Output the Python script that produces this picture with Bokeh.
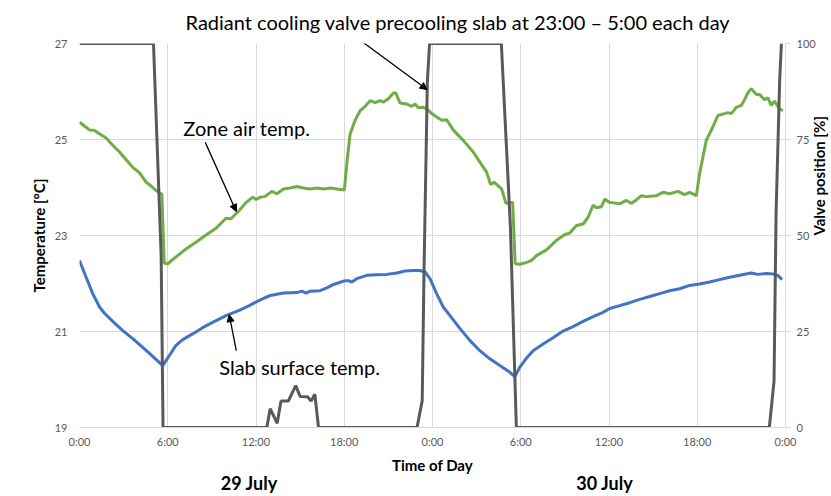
from bokeh.plotting import figure
from bokeh.models import (Range1d, LinearAxis, FixedTicker, Label, Arrow, NormalHead)
from bokeh.embed import file_html
from bokeh.resources import INLINE
import math

# ---------------- data ----------------
green_h = [0, 0.34, 0.68, 1.02, 1.36, 1.81, 2.26, 2.72, 3.17, 3.62,
           4.07, 4.53, 4.87, 5.2, 5.43, 5.6, 5.76, 6.0, 6.34, 6.67,
           7.24, 7.92, 8.6, 9.28, 9.96, 10.3, 10.86, 11.3, 11.77, 12.0,
           12.3, 12.6, 13.08, 13.42, 13.87, 14.32, 14.78, 15.23, 15.68, 16.14,
           16.59, 17.04, 17.5, 18.01, 18.17, 18.4, 18.74, 19.08, 19.42, 19.76,
           20.1, 20.44, 20.66, 21.0, 21.34, 21.5, 21.79, 22.25, 22.59, 22.81,
           23.04, 23.38, 23.61, 23.95, 24.29, 24.63, 24.97, 25.41, 25.87, 26.32,
           26.77, 27.22, 27.68, 27.95, 28.18, 28.7, 28.99, 29.37, 29.45, 29.62,
           29.94, 30.4, 30.73, 31.07, 31.75, 32.43, 33.0, 33.33, 33.79, 34.24,
           34.58, 34.92, 35.15, 35.49, 35.71, 36.05, 36.73, 37.18, 37.52, 37.86,
           38.2, 38.54, 39.22, 39.67, 40.12, 40.69, 41.14, 41.48, 41.94, 42.16,
           42.61, 43.06, 43.4, 43.86, 44.08, 44.31, 44.65, 44.99, 45.22, 45.44,
           45.67, 46.01, 46.23, 46.57, 46.8, 47.03, 47.25, 47.59, 47.82]
zone_air_temp = [25.36, 25.28, 25.20, 25.19, 25.12, 25.03, 24.88, 24.74, 24.58, 24.42,
                 24.31, 24.11, 24.03, 23.94, 23.89, 23.86, 22.42, 22.41, 22.50, 22.58,
                 22.72, 22.86, 23.01, 23.15, 23.36, 23.35, 23.52, 23.68, 23.80, 23.75,
                 23.80, 23.81, 23.92, 23.87, 23.97, 23.99, 24.02, 23.99, 23.97, 23.99,
                 23.97, 23.99, 23.97, 23.95, 24.49, 25.12, 25.40, 25.60, 25.69, 25.81,
                 25.77, 25.81, 25.78, 25.85, 25.97, 25.97, 25.76, 25.74, 25.69, 25.74,
                 25.66, 25.67, 25.64, 25.54, 25.47, 25.40, 25.41, 25.20, 25.05, 24.90,
                 24.74, 24.53, 24.32, 24.06, 24.11, 23.97, 23.67, 23.69, 23.69, 22.41,
                 22.40, 22.44, 22.48, 22.58, 22.70, 22.90, 23.02, 23.05, 23.21, 23.24,
                 23.38, 23.63, 23.58, 23.60, 23.76, 23.69, 23.66, 23.73, 23.67, 23.74,
                 23.83, 23.81, 23.83, 23.90, 23.87, 23.92, 23.85, 23.90, 23.83, 24.29,
                 24.98, 25.26, 25.50, 25.54, 25.56, 25.54, 25.67, 25.71, 25.83, 25.97,
                 26.06, 25.94, 25.94, 25.83, 25.87, 25.71, 25.80, 25.64, 25.60]

blue_h = [0, 0.45, 0.9, 1.36, 1.7, 2.26, 2.94, 3.62, 4.3, 4.98,
          5.66, 6.11, 6.56, 7.02, 7.69, 8.37, 9.05, 9.96, 10.86, 11.54,
          12.29, 12.97, 13.87, 14.78, 15.12, 15.4, 15.68, 16.36, 16.82, 17.27,
          17.95, 18.3, 18.51, 18.85, 19.53, 20.21, 20.89, 21.57, 22.13, 22.7,
          23.15, 23.49, 23.83, 24.28, 24.73, 25.19, 25.87, 26.55, 27.22, 27.9,
          28.58, 29.26, 29.6, 29.94, 30.4, 30.84, 31.52, 32.2, 32.88, 33.56,
          34.24, 34.92, 35.6, 36.05, 36.73, 37.41, 38.09, 38.77, 39.45, 40.12,
          40.8, 41.48, 42.16, 42.84, 43.52, 44.2, 44.88, 45.67, 46.12, 46.69,
          47.14, 47.48, 47.77]
slab_temp = [22.48, 22.13, 21.79, 21.51, 21.38, 21.21, 21.02, 20.85, 20.67, 20.48,
             20.29, 20.50, 20.71, 20.83, 20.95, 21.08, 21.19, 21.33, 21.44, 21.54,
             21.66, 21.75, 21.80, 21.81, 21.84, 21.80, 21.84, 21.85, 21.91, 21.98,
             22.05, 22.06, 22.03, 22.10, 22.17, 22.18, 22.19, 22.22, 22.26, 22.27,
             22.27, 22.24, 22.10, 21.79, 21.51, 21.33, 21.06, 20.81, 20.60, 20.43,
             20.29, 20.15, 20.06, 20.26, 20.45, 20.60, 20.74, 20.87, 21.01, 21.10,
             21.21, 21.31, 21.40, 21.48, 21.54, 21.60, 21.67, 21.73, 21.79, 21.85,
             21.89, 21.96, 21.99, 22.03, 22.08, 22.13, 22.17, 22.22, 22.19, 22.21,
             22.20, 22.17, 22.08]

valve_h = [0, 5.03, 5.55, 5.68, 12.74, 12.96, 13.44, 13.7, 14.2, 14.7,
           15.0, 15.5, 15.75, 16.0, 16.25, 22.95, 23.3, 23.42, 23.65, 23.8,
           28.68, 29.3, 29.7, 46.9, 47.22, 47.36, 47.6, 47.72]
valve_pos = [100, 100, 45, 0, 0, 4.9, 1.1, 6.9, 6.9, 10.9,
             8.1, 8.0, 6.9, 8.7, 0, 0, 7, 40, 90, 100,
             100, 52, 0, 0, 12, 56, 90, 100]

x_ticks = [0, 6, 12, 18, 24, 30, 36, 42, 48]
x_tick_labels = ["0:00", "6:00", "12:00", "18:00", "0:00", "6:00", "12:00", "18:00", "0:00"]
day_ticks = [11.54, 35.71]
day_labels = ["29 July", "30 July"]
temp_ticks = [19, 21, 23, 25, 27]
valve_ticks = [0, 25, 50, 75, 100]

FONT = "Lato"
GRID = "#d9d9d9"
TICKC = "#595959"

p = figure(width=839, height=496, output_backend="svg", toolbar_location=None,
           x_range=Range1d(0, 48), y_range=Range1d(19, 27),
           min_border_left=79, min_border_right=53, min_border_top=43, min_border_bottom=69,
           background_fill_color="white", border_fill_color="white")
p.outline_line_color = None
p.extra_y_ranges = {"valve": Range1d(0, 100)}

# title
p.title.text = "Radiant cooling valve precooling slab at 23:00 \u2013 5:00 each day"
p.title.text_font = FONT
p.title.text_font_size = "20px"
p.title.text_font_style = "normal"
p.title.text_color = "black"
p.title.align = "left"
p.title.offset = 106
p.title.vertical_align = "top"
p.title.standoff = 16

# grids
p.xgrid.ticker = FixedTicker(ticks=x_ticks)
p.ygrid.ticker = FixedTicker(ticks=temp_ticks)
for g in (p.xgrid, p.ygrid):
    g.grid_line_color = GRID
    g.grid_line_width = 1

# bottom axis
xa = p.xaxis[0]
xa.ticker = FixedTicker(ticks=x_ticks)
xa.major_label_overrides = {t: l for t, l in zip(x_ticks, x_tick_labels)}
xa.axis_line_color = GRID
xa.major_tick_line_color = None
xa.minor_tick_line_color = None
xa.major_tick_out = 0
xa.minor_tick_out = 0
xa.major_label_standoff = 7
xa.major_label_text_font = FONT
xa.major_label_text_font_size = "11px"
xa.major_label_text_color = TICKC
xa.axis_label = "Time of Day"
xa.axis_label_text_font = FONT
xa.axis_label_text_font_size = "15px"
xa.axis_label_text_font_style = "bold"
xa.axis_label_text_color = "black"
xa.axis_label_standoff = 5

# day labels axis
da = LinearAxis(ticker=FixedTicker(ticks=day_ticks))
da.major_label_overrides = {t: l for t, l in zip(day_ticks, day_labels)}
da.axis_line_color = None
da.major_tick_line_color = None
da.minor_tick_line_color = None
da.major_tick_out = 0
da.minor_tick_out = 0
da.axis_label_standoff = 0
da.major_label_standoff = -5
da.major_label_text_font = FONT
da.major_label_text_font_size = "18px"
da.major_label_text_font_style = "bold"
da.major_label_text_color = "black"
p.add_layout(da, "below")

# left axis
ya = p.yaxis[0]
ya.ticker = FixedTicker(ticks=temp_ticks)
ya.axis_line_color = None
ya.major_tick_line_color = None
ya.minor_tick_line_color = None
ya.major_tick_out = 0
ya.minor_tick_out = 0
ya.major_label_standoff = 12
ya.major_label_text_font = FONT
ya.major_label_text_font_size = "11px"
ya.major_label_text_color = TICKC
ya.axis_label = "Temperature [\u00b0C]"
ya.axis_label_text_font = FONT
ya.axis_label_text_font_size = "15px"
ya.axis_label_text_font_style = "bold"
ya.axis_label_text_color = "black"
ya.axis_label_standoff = 4

# right axis
ra = LinearAxis(y_range_name="valve", ticker=FixedTicker(ticks=valve_ticks))
ra.axis_line_color = GRID
ra.major_tick_line_color = GRID
ra.major_tick_out = 5
ra.major_tick_in = 0
ra.minor_tick_out = 0
ra.minor_tick_line_color = None
ra.major_label_standoff = 6
ra.major_label_text_font = FONT
ra.major_label_text_font_size = "11px"
ra.major_label_text_color = TICKC
ra.axis_label = "Valve position [%]"
ra.axis_label_text_font = FONT
ra.axis_label_text_font_size = "15px"
ra.axis_label_text_font_style = "bold"
ra.axis_label_text_color = "black"
ra.axis_label_standoff = 0
try:
    ra.axis_label_orientation = math.pi / 2
except Exception:
    pass
p.add_layout(ra, "right")

# series
p.line(green_h, zone_air_temp, line_color="#70ad47", line_width=3)
p.line(blue_h, slab_temp, line_color="#4472c4", line_width=3)
p.line(valve_h, valve_pos, y_range_name="valve", line_color="#595959", line_width=3)

def lab(x, y, text, size):
    p.add_layout(Label(x=x, y=y, text=text, text_font=FONT, text_font_size=size,
                       text_color="black", text_align="left", text_baseline="alphabetic"))

lab(7.06, 25.23, "Zone air temp.", "20px")
lab(9.5, 20.26, "Slab surface temp.", "20px")

def arrow(x0, y0, x1, y1):
    p.add_layout(Arrow(end=NormalHead(size=7, fill_color="black", line_color="black"),
                       x_start=x0, y_start=y0, x_end=x1, y_end=y1,
                       line_color="black", line_width=1.3))

arrow(18.74, 27.146, 23.63, 26.04)
arrow(8.55, 24.94, 10.66, 23.5)
arrow(10.66, 20.60, 10.18, 21.35)

open("out.html", "w").write(file_html(p, INLINE))
